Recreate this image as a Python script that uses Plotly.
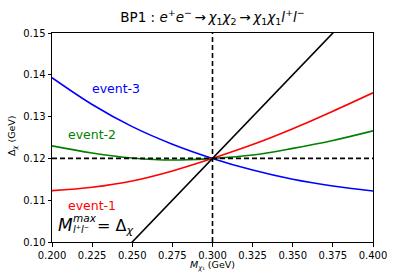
import plotly.graph_objects as go

x_vals = [0.2, 0.225, 0.25, 0.275, 0.3, 0.325, 0.35, 0.375, 0.4]
event1 = [0.1123, 0.1131, 0.1146, 0.1170, 0.1200, 0.1233, 0.1271, 0.1313, 0.1357]
event2 = [0.1230, 0.1213, 0.1201, 0.1196, 0.1200, 0.1208, 0.1224, 0.1243, 0.1266]
event3 = [0.1393, 0.1329, 0.1276, 0.1234, 0.1200, 0.1172, 0.1150, 0.1134, 0.1122]
line_x = [0.2, 0.4]
line_y = [0.08, 0.16]  # M^max = Delta_chi line (y = 0.4 x)
ref_x = 0.3
ref_y = 0.12
x_ticks = [0.2, 0.225, 0.25, 0.275, 0.3, 0.325, 0.35, 0.375, 0.4]
x_tick_labels = ["0.200", "0.225", "0.250", "0.275", "0.300", "0.325", "0.350", "0.375", "0.400"]
y_ticks = [0.10, 0.11, 0.12, 0.13, 0.14, 0.15]
y_tick_labels = ["0.10", "0.11", "0.12", "0.13", "0.14", "0.15"]

FONT = "DejaVu Sans"
L, R, T, B = 52, 373, 33, 242
W, H = 415, 277

def dx(px):
    return 0.2 + (px - L) / (R - L) * 0.2

def dy(py):
    return 0.15 - (py - T) / (B - T) * 0.05

def px_paper(px):
    return (px - L) / (R - L)

def py_paper(py):
    return (B - py) / (B - T)

fig = go.Figure()
fig.add_trace(go.Scatter(x=x_vals, y=event3, mode="lines", line=dict(color="#0000ff", width=1.6, shape="spline")))
fig.add_trace(go.Scatter(x=x_vals, y=event2, mode="lines", line=dict(color="#008000", width=1.6, shape="spline")))
fig.add_trace(go.Scatter(x=x_vals, y=event1, mode="lines", line=dict(color="#ff0000", width=1.6, shape="spline")))
fig.add_trace(go.Scatter(x=line_x, y=line_y, mode="lines", line=dict(color="black", width=1.6)))
fig.add_trace(go.Scatter(x=[0.2, 0.4], y=[ref_y, ref_y], mode="lines", line=dict(color="black", width=1.6, dash="5px,3px")))
fig.add_trace(go.Scatter(x=[ref_x, ref_x], y=[0.10, 0.15], mode="lines", line=dict(color="black", width=1.6, dash="5px,3px")))

ann = [
    dict(text="event-3", px=116, py=88, size=12.5, color="#0000ff", xanchor="center"),
    dict(text="event-2", px=92, py=134, size=12.5, color="#008000", xanchor="center"),
    dict(text="event-1", px=92, py=205, size=12.5, color="#ff0000", xanchor="center"),
    dict(text="<i>M</i>", px=57, py=225, size=17, color="black", xanchor="left"),
    dict(text="<i>max</i>", px=72, py=218, size=10.5, color="black", xanchor="left"),
    dict(text="<i>l</i>\u207a<i>l</i>\u207b", px=72, py=229, size=10, color="black", xanchor="left"),
    dict(text="= \u0394<sub><i>\u03c7</i></sub>", px=96, py=226, size=16, color="black", xanchor="left"),
]
for a in ann:
    fig.add_annotation(x=dx(a["px"]), y=dy(a["py"]), xref="x", yref="y", text=a["text"], showarrow=False,
                       xanchor=a["xanchor"], yanchor="middle", borderpad=0,
                       font=dict(family=FONT, size=a["size"], color=a["color"]))

# axis titles as paper annotations (paper coords span the plot area)
fig.add_annotation(x=px_paper((L + R) / 2), y=py_paper(265), xref="paper", yref="paper",
                   text="<i>M</i><sub><i>\u03c7</i>\u2081</sub> (GeV)", showarrow=False,
                   xanchor="center", yanchor="middle", font=dict(family=FONT, size=9.5, color="black"))
fig.add_annotation(x=px_paper(12), y=py_paper(136), xref="paper", yref="paper",
                   text="\u0394<sub><i>\u03c7</i></sub> (GeV)", showarrow=False, textangle=-90,
                   xanchor="center", yanchor="middle", font=dict(family=FONT, size=9.5, color="black"))

arrow = "\u2009\u2192\u2009"
fig.update_layout(
    width=W, height=H,
    margin=dict(l=L, r=W - R, t=T, b=H - B, autoexpand=False),
    paper_bgcolor="white", plot_bgcolor="white",
    showlegend=False,
    font=dict(family=FONT, size=10, color="black"),
    title=dict(
        text="BP1 : <i>e</i><sup>+</sup><i>e</i><sup>\u2212</sup>" + arrow
             + "<i>\u03c7</i><sub>1</sub><i>\u03c7</i><sub>2</sub>" + arrow
             + "<i>\u03c7</i><sub>1</sub><i>\u03c7</i><sub>1</sub><i>l</i><sup>+</sup><i>l</i><sup>\u2212</sup>",
        x=(L + R) / 2 / W, xanchor="center", y=1 - 17 / H, yanchor="middle",
        font=dict(family=FONT, size=13.5, color="black"),
    ),
    xaxis=dict(
        range=[0.2, 0.4], tickvals=x_ticks, ticktext=x_tick_labels, automargin=False,
        showgrid=False, zeroline=False, showline=True, linecolor="black", linewidth=1, mirror=True,
        ticks="outside", ticklen=3.5, tickcolor="black", tickwidth=1,
        tickfont=dict(family=FONT, size=10, color="black"),
    ),
    yaxis=dict(
        range=[0.10, 0.15], tickvals=y_ticks, ticktext=y_tick_labels, automargin=False,
        showgrid=False, zeroline=False, showline=True, linecolor="black", linewidth=1, mirror=True,
        ticks="outside", ticklen=3.5, tickcolor="black", tickwidth=1,
        tickfont=dict(family=FONT, size=10, color="black"),
    ),
)

fig.write_html("out.html", config={"displayModeBar": False},
               post_script="document.body.style.margin='0px';")
